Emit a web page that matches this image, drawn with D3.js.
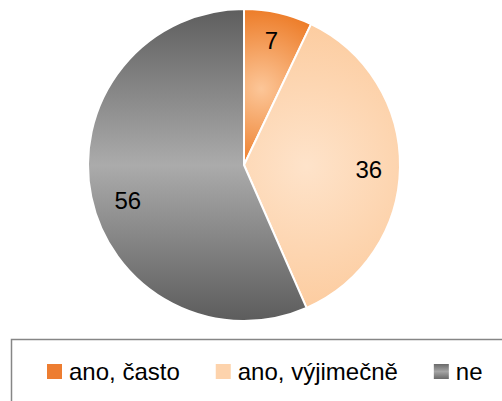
<!DOCTYPE html>
<html lang="cs">
<head>
  <meta charset="utf-8" />
  <title>Koláčový graf</title>
  <script src="https://d3js.org/d3.v7.min.js"></script>
  <style>
    body { margin: 0; background: #fff; }
  </style>
</head>
<body>
<script>
  // data
  var categories = ["ano, často", "ano, výjimečně", "ne"];
  var values = [7, 36, 56];
  var colors = ["#ed7d31", "#fdd3ac", "#8c8c8c"];

  var w = 502;
  var h = 401;
  var cx = 244, cy = 165, r = 156;

  var svg = d3.select("body")
      .append("svg")
      .attr("width", w)
      .attr("height", h);

  var defs = svg.append("defs");

  var pie = d3.pie().sort(null).value(function(d) { return d; });
  var arcs = pie(values);
  var arc = d3.arc().innerRadius(0).outerRadius(r);
  var labelArc = d3.arc().innerRadius(r * 0.8).outerRadius(r * 0.8);

  // gradients (coords are relative to the pie centre, the group is translated)
  var cen0 = d3.arc().innerRadius(r * 0.5).outerRadius(r * 0.5).centroid(arcs[0]);
  var g0 = defs.append("radialGradient").attr("id", "grad0")
      .attr("gradientUnits", "userSpaceOnUse")
      .attr("cx", cen0[0]).attr("cy", cen0[1]).attr("r", 85);
  g0.append("stop").attr("offset", "0%").attr("stop-color", "#fcc698");
  g0.append("stop").attr("offset", "100%").attr("stop-color", "#ec7822");

  var cen1 = d3.arc().innerRadius(r * 0.4).outerRadius(r * 0.4).centroid(arcs[1]);
  var g1 = defs.append("radialGradient").attr("id", "grad1")
      .attr("gradientUnits", "userSpaceOnUse")
      .attr("cx", cen1[0]).attr("cy", cen1[1]).attr("r", 170);
  g1.append("stop").attr("offset", "0%").attr("stop-color", "#fee3ca");
  g1.append("stop").attr("offset", "100%").attr("stop-color", "#fcc898");

  var g2 = defs.append("linearGradient").attr("id", "grad2")
      .attr("gradientUnits", "userSpaceOnUse")
      .attr("x1", 0).attr("x2", 0).attr("y1", -r).attr("y2", r);
  g2.append("stop").attr("offset", "0%").attr("stop-color", "#5e5e5e");
  g2.append("stop").attr("offset", "50%").attr("stop-color", "#ababab");
  g2.append("stop").attr("offset", "100%").attr("stop-color", "#5c5c5c");

  var pieG = svg.append("g").attr("transform", "translate(" + cx + "," + cy + ")");

  pieG.selectAll("path")
      .data(arcs)
      .enter()
      .append("path")
      .attr("d", arc)
      .attr("fill", function(d, i) { return "url(#grad" + i + ")"; })
      .attr("stroke", "#fff")
      .attr("stroke-width", 2)
      .attr("stroke-linejoin", "round");

  // labels on slices
  pieG.selectAll("text")
      .data(arcs)
      .enter()
      .append("text")
      .text(function(d) { return d.data; })
      .attr("x", function(d) { return labelArc.centroid(d)[0] + (d.index == 2 ? 6 : 0); })
      .attr("y", function(d) { return labelArc.centroid(d)[1] + (d.index == 2 ? 10 : d.index == 0 ? -3 : 3); })
      .attr("dy", "0.35em")
      .attr("text-anchor", "middle")
      .attr("font-family", "Liberation Sans, Arial, sans-serif")
      .attr("font-size", "24px")
      .attr("fill", "#000");

  // legend box
  svg.append("rect")
      .attr("x", 11.5)
      .attr("y", 339.5)
      .attr("width", 520)
      .attr("height", 100)
      .attr("fill", "none")
      .attr("stroke", "#868686")
      .attr("stroke-width", 1.5);

  var gL = defs.append("linearGradient").attr("id", "gradL")
      .attr("x1", 0).attr("x2", 0).attr("y1", 0).attr("y2", 1);
  gL.append("stop").attr("offset", "0%").attr("stop-color", "#6a6a6a");
  gL.append("stop").attr("offset", "50%").attr("stop-color", "#a5a5a5");
  gL.append("stop").attr("offset", "100%").attr("stop-color", "#6a6a6a");

  var legend = svg.append("g");
  var lx = 47;
  categories.forEach(function(c, i) {
    legend.append("rect")
        .attr("x", lx)
        .attr("y", 364)
        .attr("width", 15)
        .attr("height", 15)
        .attr("fill", i == 2 ? "url(#gradL)" : colors[i]);
    var t = legend.append("text")
        .text(c)
        .attr("x", lx + 22)
        .attr("y", 380)
        .attr("font-family", "Liberation Sans, Arial, sans-serif")
        .attr("font-size", "24px")
        .attr("fill", "#000");
    lx = lx + 22 + t.node().getComputedTextLength() + 36;
  });
</script>
</body>
</html>
